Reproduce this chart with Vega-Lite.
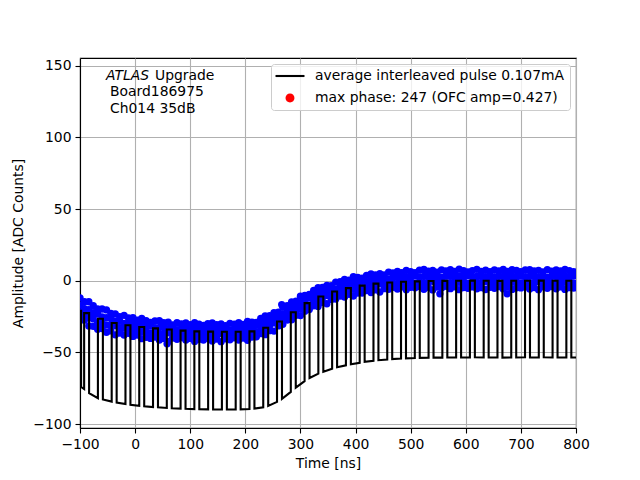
{
  "$schema": "https://vega.github.io/schema/vega-lite/v6.json",
  "width": 496,
  "height": 370,
  "autosize": {"type": "none"},
  "padding": {"left": 80, "top": 58, "right": 64, "bottom": 52},
  "background": "white",
  "config": {
    "font": "DejaVu Sans",
    "view": {"stroke": "black", "strokeWidth": 1.1},
    "axis": {
      "labelFont": "DejaVu Sans",
      "labelFontSize": 13.9,
      "labelColor": "black",
      "labelFlush": false,
      "titleFont": "DejaVu Sans",
      "titleFontSize": 13.9,
      "titleFontWeight": "normal",
      "titleColor": "black",
      "tickColor": "black",
      "tickSize": 5,
      "tickWidth": 1.1,
      "domainColor": "black",
      "domainWidth": 1.1,
      "gridColor": "#b0b0b0",
      "gridWidth": 1.1,
      "labelPadding": 4
    },
    "legend": {
      "orient": "top-right",
      "offset": 6,
      "padding": 5,
      "labelFont": "DejaVu Sans",
      "labelFontSize": 13.9,
      "labelColor": "black",
      "labelLimit": 400,
      "symbolSize": 196,
      "symbolStrokeWidth": 0,
      "symbolOffset": 7,
      "labelOffset": 18,
      "rowPadding": 8,
      "strokeColor": "#cccccc",
      "fillColor": "rgba(255,255,255,0.8)",
      "cornerRadius": 3
    }
  },
  "datasets": {
    "pulse": [
      {"i":0,"t":-100,"a":-21},{"i":1,"t":-98,"a":-21},{"i":2,"t":-98,"a":-74},{"i":3,"t":-92.5,"a":-75.5},
      {"i":4,"t":-92.5,"a":-22.6},{"i":5,"t":-83.5,"a":-22.6},{"i":6,"t":-83.5,"a":-78.4},{"i":7,"t":-67.5,"a":-81.9},
      {"i":8,"t":-67.5,"a":-26.5},{"i":9,"t":-58.5,"a":-26.5},{"i":10,"t":-58.5,"a":-82.8},{"i":11,"t":-42.5,"a":-84.3},
      {"i":12,"t":-42.5,"a":-29.5},{"i":13,"t":-33.5,"a":-29.5},{"i":14,"t":-33.5,"a":-85},{"i":15,"t":-17.5,"a":-86},
      {"i":16,"t":-17.5,"a":-31},{"i":17,"t":-8.5,"a":-31},{"i":18,"t":-8.5,"a":-86.5},{"i":19,"t":7.5,"a":-87.2},
      {"i":20,"t":7.5,"a":-32.2},{"i":21,"t":16.5,"a":-32.2},{"i":22,"t":16.5,"a":-87.6},{"i":23,"t":32.5,"a":-88.1},
      {"i":24,"t":32.5,"a":-33.2},{"i":25,"t":41.5,"a":-33.2},{"i":26,"t":41.5,"a":-88.3},{"i":27,"t":57.5,"a":-88.7},
      {"i":28,"t":57.5,"a":-34},{"i":29,"t":66.5,"a":-34},{"i":30,"t":66.5,"a":-88.9},{"i":31,"t":82.5,"a":-89.2},
      {"i":32,"t":82.5,"a":-34.8},{"i":33,"t":91.5,"a":-34.8},{"i":34,"t":91.5,"a":-89.3},{"i":35,"t":107.5,"a":-89.5},
      {"i":36,"t":107.5,"a":-35.3},{"i":37,"t":116.5,"a":-35.3},{"i":38,"t":116.5,"a":-89.6},{"i":39,"t":132.5,"a":-89.7},
      {"i":40,"t":132.5,"a":-35.5},{"i":41,"t":141.5,"a":-35.5},{"i":42,"t":141.5,"a":-89.7},{"i":43,"t":157.5,"a":-89.8},
      {"i":44,"t":157.5,"a":-35.6},{"i":45,"t":166.5,"a":-35.6},{"i":46,"t":166.5,"a":-89.8},{"i":47,"t":182.5,"a":-89.8},
      {"i":48,"t":182.5,"a":-35.6},{"i":49,"t":191.5,"a":-35.6},{"i":50,"t":191.5,"a":-89.7},{"i":51,"t":207.5,"a":-89.5},
      {"i":52,"t":207.5,"a":-35.3},{"i":53,"t":216.5,"a":-35.3},{"i":54,"t":216.5,"a":-89.2},{"i":55,"t":232.5,"a":-88.3},
      {"i":56,"t":232.5,"a":-32.8},{"i":57,"t":241.5,"a":-32.8},{"i":58,"t":241.5,"a":-87.3},{"i":59,"t":257.5,"a":-84.5},
      {"i":60,"t":257.5,"a":-28.4},{"i":61,"t":266.5,"a":-28.4},{"i":62,"t":266.5,"a":-82.3},{"i":63,"t":282.5,"a":-77.5},
      {"i":64,"t":282.5,"a":-22},{"i":65,"t":291.5,"a":-22},{"i":66,"t":291.5,"a":-74.5},{"i":67,"t":307.5,"a":-70},
      {"i":68,"t":307.5,"a":-15.6},{"i":69,"t":316.5,"a":-15.6},{"i":70,"t":316.5,"a":-67.8},{"i":71,"t":332.5,"a":-64.8},
      {"i":72,"t":332.5,"a":-11},{"i":73,"t":341.5,"a":-11},{"i":74,"t":341.5,"a":-63.5},{"i":75,"t":357.5,"a":-61.3},
      {"i":76,"t":357.5,"a":-7.5},{"i":77,"t":366.5,"a":-7.5},{"i":78,"t":366.5,"a":-60.3},{"i":79,"t":382.5,"a":-59},
      {"i":80,"t":382.5,"a":-5.1},{"i":81,"t":391.5,"a":-5.1},{"i":82,"t":391.5,"a":-58.3},{"i":83,"t":407.5,"a":-57.2},
      {"i":84,"t":407.5,"a":-3.4},{"i":85,"t":416.5,"a":-3.4},{"i":86,"t":416.5,"a":-56.6},{"i":87,"t":432.5,"a":-55.8},
      {"i":88,"t":432.5,"a":-2},{"i":89,"t":441.5,"a":-2},{"i":90,"t":441.5,"a":-55.4},{"i":91,"t":457.5,"a":-54.9},
      {"i":92,"t":457.5,"a":-1.2},{"i":93,"t":466.5,"a":-1.2},{"i":94,"t":466.5,"a":-54.6},{"i":95,"t":482.5,"a":-54.3},
      {"i":96,"t":482.5,"a":-0.7},{"i":97,"t":491.5,"a":-0.7},{"i":98,"t":491.5,"a":-54.1},{"i":99,"t":507.5,"a":-53.9},
      {"i":100,"t":507.5,"a":-0.4},{"i":101,"t":516.5,"a":-0.4},{"i":102,"t":516.5,"a":-53.8},{"i":103,"t":532.5,"a":-53.7},
      {"i":104,"t":532.5,"a":-0.2},{"i":105,"t":541.5,"a":-0.2},{"i":106,"t":541.5,"a":-53.6},{"i":107,"t":557.5,"a":-53.6},
      {"i":108,"t":557.5,"a":-0.1},{"i":109,"t":566.5,"a":-0.1},{"i":110,"t":566.5,"a":-53.5},{"i":111,"t":582.5,"a":-53.5},
      {"i":112,"t":582.5,"a":0},{"i":113,"t":591.5,"a":0},{"i":114,"t":591.5,"a":-53.5},{"i":115,"t":607.5,"a":-53.5},
      {"i":116,"t":607.5,"a":0.1},{"i":117,"t":616.5,"a":0.1},{"i":118,"t":616.5,"a":-53.4},{"i":119,"t":632.5,"a":-53.5},
      {"i":120,"t":632.5,"a":0},{"i":121,"t":641.5,"a":0},{"i":122,"t":641.5,"a":-53.5},{"i":123,"t":657.5,"a":-53.5},
      {"i":124,"t":657.5,"a":-0.1},{"i":125,"t":666.5,"a":-0.1},{"i":126,"t":666.5,"a":-53.6},{"i":127,"t":682.5,"a":-53.5},
      {"i":128,"t":682.5,"a":0},{"i":129,"t":691.5,"a":0},{"i":130,"t":691.5,"a":-53.5},{"i":131,"t":707.5,"a":-53.4},
      {"i":132,"t":707.5,"a":0},{"i":133,"t":716.5,"a":0},{"i":134,"t":716.5,"a":-53.5},{"i":135,"t":732.5,"a":-53.5},
      {"i":136,"t":732.5,"a":0.1},{"i":137,"t":741.5,"a":0.1},{"i":138,"t":741.5,"a":-53.4},{"i":139,"t":757.5,"a":-53.5},
      {"i":140,"t":757.5,"a":0},{"i":141,"t":766.5,"a":0},{"i":142,"t":766.5,"a":-53.5},{"i":143,"t":782.5,"a":-53.5},
      {"i":144,"t":782.5,"a":0},{"i":145,"t":791.5,"a":0},{"i":146,"t":791.5,"a":-53.5},{"i":147,"t":800,"a":-53.5}
    ],
    "scatter": [
      {"t":-100,"a":-11.9},{"t":-100,"a":-17.0},{"t":-100,"a":-22.1},{"t":-100,"a":-26.9},
      {"t":-92,"a":-14.6},{"t":-92,"a":-19.4},{"t":-92,"a":-23.1},{"t":-92,"a":-27.5},
      {"t":-84,"a":-14.6},{"t":-84,"a":-20.2},{"t":-84,"a":-25.5},{"t":-84,"a":-31.5},
      {"t":-76,"a":-17.3},{"t":-76,"a":-22.3},{"t":-76,"a":-26.6},{"t":-76,"a":-31.8},
      {"t":-68,"a":-19.7},{"t":-68,"a":-23.2},{"t":-68,"a":-29.2},{"t":-68,"a":-33.8},
      {"t":-60,"a":-19.7},{"t":-60,"a":-25.2},{"t":-60,"a":-29.3},{"t":-60,"a":-33.3},
      {"t":-52,"a":-20.3},{"t":-52,"a":-25.7},{"t":-52,"a":-30.8},{"t":-52,"a":-35.9},
      {"t":-44,"a":-22.8},{"t":-44,"a":-26.4},{"t":-44,"a":-31.1},{"t":-44,"a":-35.0},
      {"t":-36,"a":-23.1},{"t":-36,"a":-28.1},{"t":-36,"a":-31.3},{"t":-36,"a":-37.7},
      {"t":-28,"a":-25.0},{"t":-28,"a":-28.1},{"t":-28,"a":-32.8},{"t":-28,"a":-36.4},
      {"t":-20,"a":-24.1},{"t":-20,"a":-29.7},{"t":-20,"a":-33.0},{"t":-20,"a":-37.8},
      {"t":-12,"a":-26.0},{"t":-12,"a":-29.7},{"t":-12,"a":-34.2},{"t":-12,"a":-36.6},
      {"t":-4,"a":-25.8},{"t":-4,"a":-30.3},{"t":-4,"a":-34.6},{"t":-4,"a":-38.8},
      {"t":4,"a":-27.4},{"t":4,"a":-31.4},{"t":4,"a":-34.3},{"t":4,"a":-37.9},
      {"t":12,"a":-26.3},{"t":12,"a":-31.0},{"t":12,"a":-35.3},{"t":12,"a":-40.4},
      {"t":20,"a":-27.9},{"t":20,"a":-31.9},{"t":20,"a":-35.2},{"t":20,"a":-39.4},
      {"t":28,"a":-29.1},{"t":28,"a":-31.6},{"t":28,"a":-36.6},{"t":28,"a":-40.2},
      {"t":36,"a":-28.0},{"t":36,"a":-32.7},{"t":36,"a":-36.0},{"t":36,"a":-39.2},
      {"t":44,"a":-27.8},{"t":44,"a":-32.6},{"t":44,"a":-36.9},{"t":44,"a":-41.4},
      {"t":52,"a":-29.2},{"t":52,"a":-32.4},{"t":52,"a":-36.7},{"t":52,"a":-40.2},
      {"t":60,"a":-28.9},{"t":60,"a":-33.5},{"t":60,"a":-36.3},{"t":60,"a":-42.3},
      {"t":68,"a":-30.8},{"t":68,"a":-33.1},{"t":68,"a":-37.2},{"t":68,"a":-40.0},
      {"t":76,"a":-29.3},{"t":76,"a":-34.1},{"t":76,"a":-36.8},{"t":76,"a":-40.8},
      {"t":84,"a":-30.1},{"t":84,"a":-33.4},{"t":84,"a":-37.7},{"t":84,"a":-39.7},
      {"t":92,"a":-29.4},{"t":92,"a":-33.5},{"t":92,"a":-37.6},{"t":92,"a":-41.4},
      {"t":100,"a":-30.7},{"t":100,"a":-34.3},{"t":100,"a":-37.0},{"t":100,"a":-40.2},
      {"t":108,"a":-29.2},{"t":108,"a":-33.5},{"t":108,"a":-37.6},{"t":108,"a":-42.3},
      {"t":116,"a":-30.3},{"t":116,"a":-33.9},{"t":116,"a":-37.0},{"t":116,"a":-40.8},
      {"t":124,"a":-31.2},{"t":124,"a":-33.3},{"t":124,"a":-38.1},{"t":124,"a":-41.3},
      {"t":132,"a":-29.9},{"t":132,"a":-34.2},{"t":132,"a":-37.3},{"t":132,"a":-40.1},
      {"t":140,"a":-29.4},{"t":140,"a":-33.8},{"t":140,"a":-37.9},{"t":140,"a":-42.0},
      {"t":148,"a":-30.6},{"t":148,"a":-33.4},{"t":148,"a":-37.5},{"t":148,"a":-40.6},
      {"t":156,"a":-30.1},{"t":156,"a":-34.3},{"t":156,"a":-36.9},{"t":156,"a":-42.5},
      {"t":164,"a":-31.3},{"t":164,"a":-33.6},{"t":164,"a":-37.7},{"t":164,"a":-40.5},
      {"t":172,"a":-29.7},{"t":172,"a":-34.5},{"t":172,"a":-37.2},{"t":172,"a":-41.2},
      {"t":180,"a":-30.2},{"t":180,"a":-33.5},{"t":180,"a":-37.8},{"t":180,"a":-39.8},
      {"t":188,"a":-29.3},{"t":188,"a":-33.4},{"t":188,"a":-37.5},{"t":188,"a":-41.3},
      {"t":196,"a":-30.4},{"t":196,"a":-34.0},{"t":196,"a":-36.7},{"t":196,"a":-39.9},
      {"t":204,"a":-28.4},{"t":204,"a":-32.7},{"t":204,"a":-36.8},{"t":204,"a":-41.5},
      {"t":212,"a":-28.8},{"t":212,"a":-32.4},{"t":212,"a":-35.5},{"t":212,"a":-39.3},
      {"t":220,"a":-29.0},{"t":220,"a":-31.1},{"t":220,"a":-35.9},{"t":220,"a":-39.1},
      {"t":228,"a":-26.3},{"t":228,"a":-30.7},{"t":228,"a":-34.0},{"t":228,"a":-36.9},
      {"t":236,"a":-24.6},{"t":236,"a":-29.1},{"t":236,"a":-33.4},{"t":236,"a":-37.6},
      {"t":244,"a":-24.4},{"t":244,"a":-27.3},{"t":244,"a":-31.6},{"t":244,"a":-34.8},
      {"t":252,"a":-22.3},{"t":252,"a":-26.6},{"t":252,"a":-29.4},{"t":252,"a":-35.1},
      {"t":260,"a":-21.9},{"t":260,"a":-24.3},{"t":260,"a":-28.6},{"t":260,"a":-31.5},
      {"t":268,"a":-18.5},{"t":268,"a":-23.4},{"t":268,"a":-26.3},{"t":268,"a":-30.4},
      {"t":276,"a":-17.4},{"t":276,"a":-20.8},{"t":276,"a":-25.3},{"t":276,"a":-27.4},
      {"t":284,"a":-14.8},{"t":284,"a":-19.0},{"t":284,"a":-23.3},{"t":284,"a":-27.2},
      {"t":292,"a":-14.2},{"t":292,"a":-17.9},{"t":292,"a":-20.8},{"t":292,"a":-24.1},
      {"t":300,"a":-10.8},{"t":300,"a":-15.2},{"t":300,"a":-19.5},{"t":300,"a":-24.3},
      {"t":308,"a":-10.3},{"t":308,"a":-14.0},{"t":308,"a":-17.3},{"t":308,"a":-21.2},
      {"t":316,"a":-9.6},{"t":316,"a":-11.8},{"t":316,"a":-16.8},{"t":316,"a":-20.1},
      {"t":324,"a":-6.8},{"t":324,"a":-11.2},{"t":324,"a":-14.5},{"t":324,"a":-17.4},
      {"t":332,"a":-4.9},{"t":332,"a":-9.4},{"t":332,"a":-13.7},{"t":332,"a":-17.9},
      {"t":340,"a":-4.7},{"t":340,"a":-7.6},{"t":340,"a":-11.9},{"t":340,"a":-15.1},
      {"t":348,"a":-3.2},{"t":348,"a":-7.5},{"t":348,"a":-10.3},{"t":348,"a":-16.0},
      {"t":356,"a":-3.4},{"t":356,"a":-5.8},{"t":356,"a":-10.1},{"t":356,"a":-13.0},
      {"t":364,"a":-0.9},{"t":364,"a":-5.8},{"t":364,"a":-8.7},{"t":364,"a":-12.8},
      {"t":372,"a":-0.7},{"t":372,"a":-4.1},{"t":372,"a":-8.6},{"t":372,"a":-10.7},
      {"t":380,"a":1.0},{"t":380,"a":-3.2},{"t":380,"a":-7.5},{"t":380,"a":-11.4},
      {"t":388,"a":0.5},{"t":388,"a":-3.2},{"t":388,"a":-6.1},{"t":388,"a":-9.4},
      {"t":396,"a":2.8},{"t":396,"a":-1.6},{"t":396,"a":-5.9},{"t":396,"a":-10.7},
      {"t":404,"a":2.3},{"t":404,"a":-1.4},{"t":404,"a":-4.7},{"t":404,"a":-8.6},
      {"t":412,"a":1.9},{"t":412,"a":-0.3},{"t":412,"a":-5.3},{"t":412,"a":-8.6},
      {"t":420,"a":3.8},{"t":420,"a":-0.6},{"t":420,"a":-3.9},{"t":420,"a":-6.8},
      {"t":428,"a":4.8},{"t":428,"a":0.3},{"t":428,"a":-4.0},{"t":428,"a":-8.2},
      {"t":436,"a":4.1},{"t":436,"a":1.2},{"t":436,"a":-3.1},{"t":436,"a":-6.3},
      {"t":444,"a":5.0},{"t":444,"a":0.7},{"t":444,"a":-2.1},{"t":444,"a":-7.8},
      {"t":452,"a":4.1},{"t":452,"a":1.7},{"t":452,"a":-2.6},{"t":452,"a":-5.5},
      {"t":460,"a":6.0},{"t":460,"a":1.1},{"t":460,"a":-1.8},{"t":460,"a":-5.9},
      {"t":468,"a":5.5},{"t":468,"a":2.1},{"t":468,"a":-2.4},{"t":468,"a":-4.5},
      {"t":476,"a":6.6},{"t":476,"a":2.4},{"t":476,"a":-1.9},{"t":476,"a":-5.8},
      {"t":484,"a":5.6},{"t":484,"a":1.9},{"t":484,"a":-1.0},{"t":484,"a":-4.3},
      {"t":492,"a":7.3},{"t":492,"a":2.9},{"t":492,"a":-1.4},{"t":492,"a":-6.2},
      {"t":500,"a":6.4},{"t":500,"a":2.7},{"t":500,"a":-0.6},{"t":500,"a":-4.5},
      {"t":508,"a":5.6},{"t":508,"a":3.4},{"t":508,"a":-1.6},{"t":508,"a":-4.9},
      {"t":516,"a":7.4},{"t":516,"a":2.7},{"t":516,"a":-0.8},{"t":516,"a":-4.0},
      {"t":524,"a":7.9},{"t":524,"a":3.1},{"t":524,"a":-1.4},{"t":524,"a":-5.9},
      {"t":532,"a":6.7},{"t":532,"a":3.5},{"t":532,"a":-1.0},{"t":532,"a":-4.5},
      {"t":540,"a":7.2},{"t":540,"a":2.6},{"t":540,"a":-0.4},{"t":540,"a":-6.4},
      {"t":548,"a":6.0},{"t":548,"a":3.3},{"t":548,"a":-1.2},{"t":548,"a":-4.4},
      {"t":556,"a":7.6},{"t":556,"a":2.4},{"t":556,"a":-0.7},{"t":556,"a":-5.1},
      {"t":564,"a":6.9},{"t":564,"a":3.2},{"t":564,"a":-1.5},{"t":564,"a":-3.9},
      {"t":572,"a":7.7},{"t":572,"a":3.2},{"t":572,"a":-1.3},{"t":572,"a":-5.5},
      {"t":580,"a":6.5},{"t":580,"a":2.5},{"t":580,"a":-0.6},{"t":580,"a":-4.2},
      {"t":588,"a":8.1},{"t":588,"a":3.4},{"t":588,"a":-1.1},{"t":588,"a":-6.2},
      {"t":596,"a":7.0},{"t":596,"a":3.0},{"t":596,"a":-0.5},{"t":596,"a":-4.7},
      {"t":604,"a":6.1},{"t":604,"a":3.6},{"t":604,"a":-1.6},{"t":604,"a":-5.2},
      {"t":612,"a":7.1},{"t":612,"a":2.9},{"t":612,"a":-0.9},{"t":612,"a":-4.3},
      {"t":620,"a":8.0},{"t":620,"a":3.0},{"t":620,"a":-1.2},{"t":620,"a":-5.6},
      {"t":628,"a":6.5},{"t":628,"a":3.4},{"t":628,"a":-1.1},{"t":628,"a":-4.8},
      {"t":636,"a":7.4},{"t":636,"a":2.8},{"t":636,"a":-0.6},{"t":636,"a":-6.1},
      {"t":644,"a":6.3},{"t":644,"a":3.1},{"t":644,"a":-1.0},{"t":644,"a":-4.6},
      {"t":652,"a":7.5},{"t":652,"a":2.6},{"t":652,"a":-0.9},{"t":652,"a":-5.3},
      {"t":660,"a":6.8},{"t":660,"a":3.3},{"t":660,"a":-1.3},{"t":660,"a":-4.1},
      {"t":668,"a":7.9},{"t":668,"a":3.0},{"t":668,"a":-1.4},{"t":668,"a":-5.7},
      {"t":676,"a":6.6},{"t":676,"a":2.7},{"t":676,"a":-0.8},{"t":676,"a":-4.4},
      {"t":684,"a":7.8},{"t":684,"a":3.2},{"t":684,"a":-1.0},{"t":684,"a":-6.0},
      {"t":692,"a":7.2},{"t":692,"a":3.1},{"t":692,"a":-0.6},{"t":692,"a":-4.9},
      {"t":700,"a":6.4},{"t":700,"a":3.5},{"t":700,"a":-1.5},{"t":700,"a":-5.0},
      {"t":708,"a":7.6},{"t":708,"a":2.8},{"t":708,"a":-0.7},{"t":708,"a":-4.2},
      {"t":716,"a":7.7},{"t":716,"a":3.2},{"t":716,"a":-1.3},{"t":716,"a":-5.8},
      {"t":724,"a":6.9},{"t":724,"a":3.3},{"t":724,"a":-1.1},{"t":724,"a":-4.7},
      {"t":732,"a":7.3},{"t":732,"a":2.7},{"t":732,"a":-0.5},{"t":732,"a":-6.2},
      {"t":740,"a":6.2},{"t":740,"a":3.4},{"t":740,"a":-1.3},{"t":740,"a":-4.3},
      {"t":748,"a":7.8},{"t":748,"a":2.5},{"t":748,"a":-0.8},{"t":748,"a":-5.2},
      {"t":756,"a":6.7},{"t":756,"a":3.1},{"t":756,"a":-1.4},{"t":756,"a":-4.0},
      {"t":764,"a":7.5},{"t":764,"a":3.3},{"t":764,"a":-1.2},{"t":764,"a":-5.6},
      {"t":772,"a":6.8},{"t":772,"a":2.6},{"t":772,"a":-0.7},{"t":772,"a":-4.3},
      {"t":780,"a":7.9},{"t":780,"a":3.2},{"t":780,"a":-1.0},{"t":780,"a":-6.0},
      {"t":788,"a":7.1},{"t":788,"a":3.1},{"t":788,"a":-0.6},{"t":788,"a":-4.8},
      {"t":796,"a":6.3},{"t":796,"a":3.4},{"t":796,"a":-1.5},{"t":796,"a":-5.1},
      {"t":58,"a":-44},{"t":266,"a":-16.6},{"t":553,"a":-9.1},{"t":675,"a":-9.1}
    ]
  },
  "layer": [
    {
      "data": {"name": "scatter"},
      "mark": {"type": "circle", "color": "#0000ff", "size": 54, "opacity": 1, "clip": true},
      "encoding": {
        "x": {
          "field": "t",
          "type": "quantitative",
          "scale": {"domain": [-100, 800], "nice": false, "zero": false},
          "axis": {"title": "Time [ns]", "values": [-100, 0, 100, 200, 300, 400, 500, 600, 700, 800], "titlePadding": 6}
        },
        "y": {
          "field": "a",
          "type": "quantitative",
          "scale": {"domain": [-102.7, 155.4], "nice": false, "zero": false},
          "axis": {"title": "Amplitude [ADC Counts]", "values": [-100, -50, 0, 50, 100, 150], "titlePadding": 7}
        }
      }
    },
    {
      "data": {"name": "pulse"},
      "mark": {"type": "line", "color": "black", "strokeWidth": 2.1, "clip": true},
      "encoding": {
        "x": {"field": "t", "type": "quantitative"},
        "y": {"field": "a", "type": "quantitative"},
        "order": {"field": "i", "type": "quantitative"}
      }
    },
    {
      "data": {"values": []},
      "mark": {"type": "point", "filled": true, "opacity": 1},
      "encoding": {
        "x": {"field": "t", "type": "quantitative"},
        "y": {"field": "a", "type": "quantitative"},
        "color": {
          "field": "s",
          "type": "nominal",
          "scale": {
            "domain": ["average interleaved pulse 0.107mA", "max phase: 247 (OFC amp=0.427)"],
            "range": ["black", "#ff0000"]
          },
          "legend": {"title": null}
        },
        "shape": {
          "field": "s",
          "type": "nominal",
          "scale": {
            "domain": ["average interleaved pulse 0.107mA", "max phase: 247 (OFC amp=0.427)"],
            "range": ["M-2.07,-0.15H2.07V0.15H-2.07Z", "M-0.64,0A0.64,0.64,0,1,0,0.64,0A0.64,0.64,0,1,0,-0.64,0Z"]
          },
          "legend": {"title": null}
        }
      }
    },
    {
      "data": {"values": [{}]},
      "mark": {"type": "text", "font": "DejaVu Sans", "fontSize": 13.9, "fontStyle": "italic", "align": "left", "baseline": "alphabetic", "color": "black"},
      "encoding": {
        "x": {"datum": -52.8, "type": "quantitative"},
        "y": {"datum": 140.4, "type": "quantitative"},
        "text": {"value": "ATLAS"}
      }
    },
    {
      "data": {"values": [{}]},
      "mark": {"type": "text", "font": "DejaVu Sans", "fontSize": 13.9, "align": "left", "baseline": "alphabetic", "color": "black"},
      "encoding": {
        "x": {"datum": 36.1, "type": "quantitative"},
        "y": {"datum": 140.4, "type": "quantitative"},
        "text": {"value": "Upgrade"}
      }
    },
    {
      "data": {"values": [{}]},
      "mark": {"type": "text", "font": "DejaVu Sans", "fontSize": 13.9, "align": "left", "baseline": "alphabetic", "color": "black"},
      "encoding": {
        "x": {"datum": -45.6, "type": "quantitative"},
        "y": {"datum": 128.7, "type": "quantitative"},
        "text": {"value": "Board186975"}
      }
    },
    {
      "data": {"values": [{}]},
      "mark": {"type": "text", "font": "DejaVu Sans", "fontSize": 13.9, "align": "left", "baseline": "alphabetic", "color": "black"},
      "encoding": {
        "x": {"datum": -45.6, "type": "quantitative"},
        "y": {"datum": 117.3, "type": "quantitative"},
        "text": {"value": "Ch014 35dB"}
      }
    }
  ]
}
